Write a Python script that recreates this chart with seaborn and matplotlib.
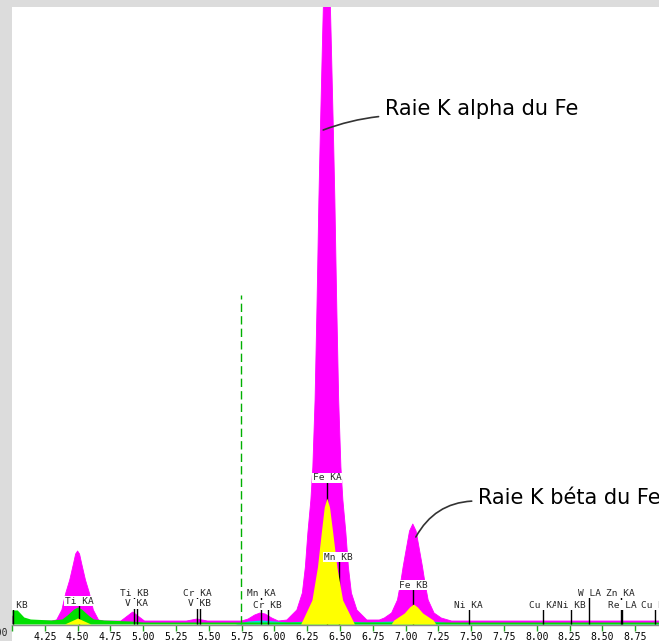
import pandas as pd
import seaborn as sns
import numpy as np
import matplotlib.pyplot as plt
from matplotlib.patches import Rectangle

# EDS spectrum: energy (keV) vs counts (a.u.)
spec_kev = [4.00, 4.05, 4.10, 4.20, 4.30, 4.34, 4.38, 4.41, 4.44, 4.47, 4.485, 4.50, 4.515,
            4.53, 4.56, 4.59, 4.62, 4.66, 4.70, 4.80, 4.83, 4.87, 4.92, 4.97, 5.01, 5.10,
            5.20, 5.33, 5.41, 5.49, 5.60, 5.75, 5.80, 5.85, 5.89, 5.93, 5.98, 6.03, 6.095,
            6.171, 6.213, 6.236, 6.255, 6.278, 6.293, 6.310, 6.324, 6.330, 6.339, 6.350,
            6.356, 6.368, 6.373, 6.40, 6.427, 6.432, 6.444, 6.450, 6.461, 6.470, 6.476,
            6.490, 6.507, 6.522, 6.545, 6.564, 6.587, 6.629, 6.705, 6.75, 6.80, 6.838,
            6.893, 6.938, 6.962, 6.981, 7.004, 7.03, 7.055, 7.08, 7.106, 7.129, 7.148,
            7.172, 7.217, 7.272, 7.35, 7.50, 8.00, 8.50, 8.95]
spec_counts = [8, 5, 3, 3, 3, 4, 14, 31, 44, 61, 70, 73, 70,
               61, 44, 31, 14, 4, 3, 3, 3, 7, 12, 7, 3, 3,
               3, 3, 5, 3, 3, 3, 5, 9, 11, 10, 6, 3, 4,
               14, 31, 57, 91, 124, 157, 224, 314, 357, 424, 491,
               524, 591, 617, 780, 617, 591, 524, 491, 424, 357, 314,
               224, 157, 124, 91, 57, 31, 14, 4, 4, 4, 6,
               11, 24, 41, 57, 74, 93, 100, 93, 74, 57, 41,
               24, 11, 6, 3, 3, 3, 3, 3]

# fitted components
yellow_kev = [4.00, 4.40, 4.45, 4.50, 4.55, 4.60, 6.20, 6.215, 6.286, 6.328, 6.357, 6.38, 6.40,
              6.42, 6.445, 6.476, 6.52, 6.595, 6.61, 6.89, 6.91, 6.99, 7.03, 7.06, 7.09,
              7.13, 7.21, 7.23, 8.95]
yellow_counts = [0, 0, 3, 6, 3, 0, 0, 4, 24, 57, 91, 117, 126,
                 117, 91, 57, 24, 4, 0, 0, 4, 11, 17, 20, 17,
                 11, 4, 0, 0]

green_kev = [4.00, 4.04, 4.09, 4.14, 4.30, 4.38, 4.42, 4.47, 4.50, 4.53, 4.58, 4.62, 4.70,
             4.90, 5.00, 8.95]
green_counts = [14, 14, 7, 5, 4, 5, 9, 15, 17, 15, 9, 5, 4, 3, 2, 2]

cyan_kev = [4.00, 5.70, 5.80, 5.90, 6.00, 6.10, 6.25, 6.40, 6.55, 6.70, 6.90, 7.05, 7.20,
            7.35, 8.95]
cyan_counts = [0, 0, 3, 4, 3, 2, 3, 5, 3, 2, 3, 4, 3, 1, 1]

# identified lines
line_names = ['Ca KB', 'Ti KA', 'Ti KB', 'V KA', 'Cr KA', 'V KB', 'Mn KA', 'Cr KB', 'Fe KA',
              'Mn KB', 'Fe KB', 'Ni KA', 'Cu KA', 'Ni KB', 'W LA', 'Zn KA', 'Re LA', 'Cu KB']
line_kev = [4.01, 4.51, 4.93, 4.95, 5.41, 5.43, 5.90, 5.95, 6.40,
            6.49, 7.06, 7.48, 8.05, 8.26, 8.40, 8.64, 8.65, 8.90]
label_counts = [19, 23, 31, 20, 31, 20, 31, 19, 146,
                67, 39, 19, 19, 19, 31, 31, 19, 19]

roi_kev = 5.745
roi_top = 329

tick_kev = np.arange(4.0, 9.01, 0.25)

spec = pd.DataFrame({'kev': spec_kev, 'counts': spec_counts})

sns.set_theme(style='white')
plt.rcParams['font.family'] = ['DejaVu Sans']

fig = plt.figure(figsize=(6.59, 6.41), dpi=100, facecolor='#dcdcdc')
fig.add_artist(Rectangle((12 / 659, 0), 1, (641 - 7) / 641, transform=fig.transFigure,
                         facecolor='white', edgecolor='none', zorder=0))
ax = fig.add_axes([12 / 659, 16 / 641, 647 / 659, 618 / 641])
ax.set_facecolor('white')

ax.fill_between(spec_kev, 0, spec_counts, color='#ff00ff', lw=0, zorder=1)
sns.lineplot(data=spec, x='kev', y='counts', color='#ff00ff', lw=0.6, ax=ax, zorder=1.1)
ax.fill_between(cyan_kev, 0, cyan_counts, color='#00dede', lw=0, zorder=2)
ax.fill_between(green_kev, 0, green_counts, color='#00e000', lw=0, zorder=2.5)

for name, kev, h in zip(line_names, line_kev, label_counts):
    ax.vlines(kev, 0, h, color='black', lw=1, zorder=3)
    ax.text(kev, h, name, ha='center', va='center', fontsize=6.8,
            family='DejaVu Sans Mono', zorder=5, clip_on=True,
            bbox=dict(facecolor='white', edgecolor='none', pad=0.6))

ax.fill_between(yellow_kev, 0, yellow_counts, color='#ffff00', lw=0, zorder=3.5)

ax.vlines(roi_kev, 0, roi_top, color='#00b000', lw=1, linestyles=(0, (6, 3)), zorder=2)

ax.annotate('Raie K alpha du Fe', xy=(6.372, 494), xytext=(6.84, 515),
            ha='left', va='center', fontsize=15, color='black',
            arrowprops=dict(arrowstyle='-', color='#333333', lw=1.2, shrinkA=2, shrinkB=0,
                            relpos=(0, 0.15), connectionstyle='arc3,rad=0.07'))
ax.annotate('Raie K béta du Fe', xy=(7.078, 87), xytext=(7.55, 126),
            ha='left', va='center', fontsize=15, color='black', annotation_clip=False,
            arrowprops=dict(arrowstyle='-', color='#333333', lw=1.2, shrinkA=2, shrinkB=0,
                            relpos=(0, 0.35), connectionstyle='arc3,rad=0.3'))

ax.set_xticks(tick_kev)
# first label is pushed off the left edge in the original
ax.set_xticklabels([''] + [f'{t:.2f}' for t in tick_kev[1:]])
for lab in ax.get_xticklabels():
    lab.set_fontfamily('DejaVu Sans Mono')
ax.annotate(f'{tick_kev[0]:.2f}', xy=(tick_kev[0], 0), xycoords=ax.get_xaxis_transform(),
            xytext=(-4, -8), textcoords='offset pixels', ha='right', va='center',
            fontsize=7, family='DejaVu Sans Mono', annotation_clip=False)
ax.set_xlim(4.0, 4.0 + 647 / 131.2)
ax.set_ylim(-1, 617)
ax.set_yticks([])
ax.set_xlabel('')
ax.set_ylabel('')
ax.tick_params(axis='x', direction='out', length=4, width=1, color='#22aa22', pad=1,
               labelsize=7, labelcolor='black', bottom=True)
for side in ['left', 'top', 'right']:
    ax.spines[side].set_visible(False)
ax.spines['bottom'].set_color('#8c8c8c')
ax.spines['bottom'].set_linewidth(1)

fig.savefig('out.png', dpi=100, facecolor=fig.get_facecolor())
